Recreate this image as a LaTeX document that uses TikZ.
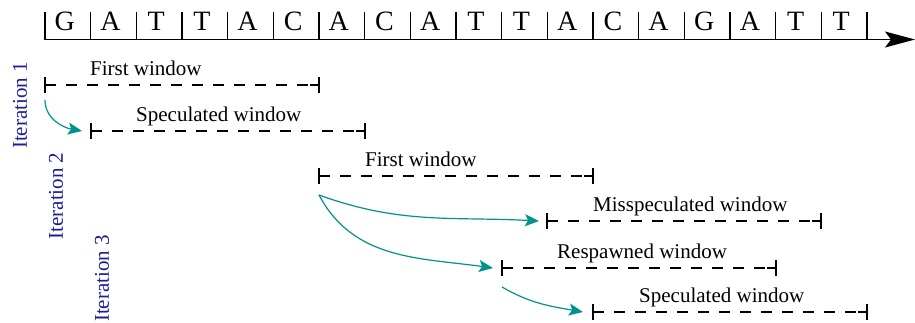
\documentclass[tikz,border=0pt]{standalone}
\usepackage{fontspec}
\setmainfont{Liberation Serif}
\usetikzlibrary{arrows.meta}
\definecolor{tealc}{RGB}{0,146,140}
\definecolor{iterblue}{RGB}{28,28,150}
\tikzset{
  seqfont/.style={font=\fontsize{28}{30}\selectfont, inner sep=0pt, anchor=base},
  wlabel/.style={font=\fontsize{21}{23}\selectfont, inner sep=0pt, anchor=base west},
  itlabel/.style={font=\fontsize{21}{23}\selectfont, text=iterblue, inner sep=0pt, rotate=90},
  winline/.style={line width=1.3pt, dash pattern=on 11pt off 10pt},
  wintick/.style={line width=1.3pt},
  spec/.style={tealc, line width=1.2pt, -{Stealth[length=14pt,width=12pt,inset=3pt]}},
}
\begin{document}
\begin{tikzpicture}[x=1pt,y=-1pt]
\useasboundingbox (0,0) rectangle (915,322);
% axis
\coordinate (ax0) at (45,39.5);
\coordinate (ax1) at (915,39.5);
\draw[line width=1.6pt, -{Stealth[length=30pt,width=16pt,inset=6pt]}] (ax0) -- (ax1);
\foreach \k in {0,...,18}{
  \draw[line width=1.2pt] ({45+45.67*\k},12) -- ({45+45.67*\k},39.5);
}
\foreach \l [count=\i from 0] in {G,A,T,T,A,C,A,C,A,T,T,A,C,A,G,A,T,T}{
  \node[seqfont] (s\i) at ({45+45.67*(\i+0.5)-3},30) {\l};
}
% windows
\foreach \n/\x/\y/\lx/\t in {w1/45/85/90/First window, w2/91/131/136/Speculated window, w3/319/176/365/First window, w4/547/221/593/Misspeculated window, w5/502/268/557/Respawned window, w6/593/312/639/Speculated window}{
  \coordinate (\n s) at (\x,\y);
  \coordinate (\n e) at ({\x+274},\y);
  \draw[winline] (\n s) -- (\n e);
  \draw[wintick] ([yshift=-8pt]\n s) -- ([yshift=8pt]\n s);
  \draw[wintick] ([yshift=-8pt]\n e) -- ([yshift=8pt]\n e);
  \draw[wintick] (\n s) -- ++(9,0);
  \draw[wintick] (\n e) -- ++(-9,0);
  \node[wlabel] (\n l) at (\lx,{\y-10}) {\t};
}
% arrows
\coordinate (a1s) at (45,100);
\coordinate (a1e) at (82,131);
\draw[spec] (a1s) to[out=-90,in=170] (a1e);
\coordinate (a2s) at (319,195);
\coordinate (a2e) at (539,221);
\draw[spec] (a2s) to[out=-20,in=177] (a2e);
\coordinate (a3e) at (493,268);
\draw[spec] (a2s) to[out=-62,in=172] (a3e);
\coordinate (a4s) at (502,287);
\coordinate (a4e) at (583,312);
\draw[spec] (a4s) to[out=-30,in=170] (a4e);
% iteration labels
\node[itlabel] (it1) at (20,105.5) {Iteration 1};
\node[itlabel] (it2) at (56,196) {Iteration 2};
\node[itlabel] (it3) at (102,278.5) {Iteration 3};
\end{tikzpicture}
\end{document}
